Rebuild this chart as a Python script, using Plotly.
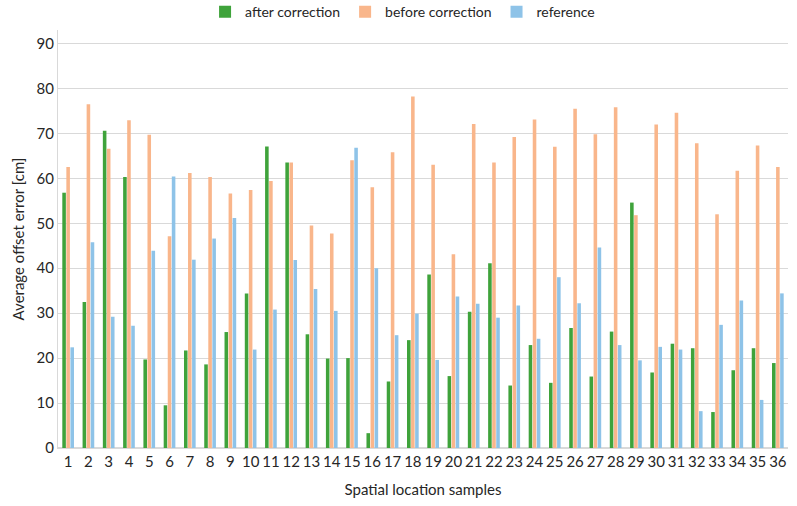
import plotly.graph_objects as go

samples = [str(i) for i in range(1, 37)]
after_correction = [56.8, 32.5, 70.6, 60.3, 19.7, 9.5, 21.7, 18.6, 25.8, 34.4,
                    67.1, 63.5, 25.3, 19.9, 20.0, 3.3, 14.8, 24.0, 38.6, 16.0,
                    30.3, 41.1, 13.9, 22.9, 14.5, 26.7, 15.9, 25.9, 54.6, 16.8,
                    23.2, 22.2, 8.0, 17.3, 22.2, 18.9]
before_correction = [62.5, 76.5, 66.6, 72.9, 69.7, 47.1, 61.2, 60.3, 56.6, 57.4,
                     59.4, 63.5, 49.5, 47.7, 64.0, 58.0, 65.8, 78.2, 63.0, 43.1,
                     72.1, 63.5, 69.2, 73.1, 67.0, 75.5, 69.8, 75.8, 51.8, 72.0,
                     74.6, 67.8, 52.0, 61.7, 67.3, 62.5]
reference = [22.4, 45.8, 29.2, 27.2, 43.9, 60.4, 41.9, 46.6, 51.2, 21.9,
             30.8, 41.8, 35.4, 30.5, 66.8, 40.0, 25.1, 29.9, 19.6, 33.7,
             32.1, 29.0, 31.7, 24.3, 38.0, 32.2, 44.6, 22.9, 19.5, 22.5,
             21.9, 8.2, 27.4, 32.8, 10.7, 34.4]
y_ticks = [0, 10, 20, 30, 40, 50, 60, 70, 80, 90]

fig = go.Figure()
fig.add_trace(go.Bar(x=samples, y=after_correction, name="after correction",
                     marker=dict(color="#3FA33B", line_width=0)))
fig.add_trace(go.Bar(x=samples, y=before_correction, name="before correction",
                     marker=dict(color="#F9B68B", line_width=0)))
fig.add_trace(go.Bar(x=samples, y=reference, name="reference",
                     marker=dict(color="#8EC3E8", line_width=0)))

font_family = "Lato, 'Open Sans', sans-serif"
fig.update_layout(
    width=797, height=506,
    margin=dict(l=58, r=9, t=30, b=58, autoexpand=False),
    paper_bgcolor="white", plot_bgcolor="white",
    barmode="group", bargap=0.4, bargroupgap=0.12,
    font=dict(family=font_family, size=15, color="#262626"),
    legend=dict(orientation="h", x=0.472, xanchor="center", y=0.976, yanchor="middle",
                yref="container", font=dict(size=14), itemwidth=30,
                traceorder="normal", itemclick=False),
    xaxis=dict(type="category", showgrid=False, showline=True, linecolor="#d9d9d9",
               ticks="", tickfont=dict(size=15), automargin=False,
               title=dict(text="Spatial location samples", font=dict(size=15), standoff=15)),
    yaxis=dict(range=[0, 93], tickvals=y_ticks, showgrid=True, gridcolor="#d9d9d9",
               gridwidth=1, zeroline=True, zerolinecolor="#d9d9d9", showline=True,
               linecolor="#d9d9d9", ticks="", tickfont=dict(size=15), automargin=False,
               title=dict(text="Average offset error [cm]", font=dict(size=15), standoff=8)),
)
fig.write_html("out.html", config={"displayModeBar": False},
               post_script="document.body.style.margin='0';document.body.style.overflow='hidden';")
